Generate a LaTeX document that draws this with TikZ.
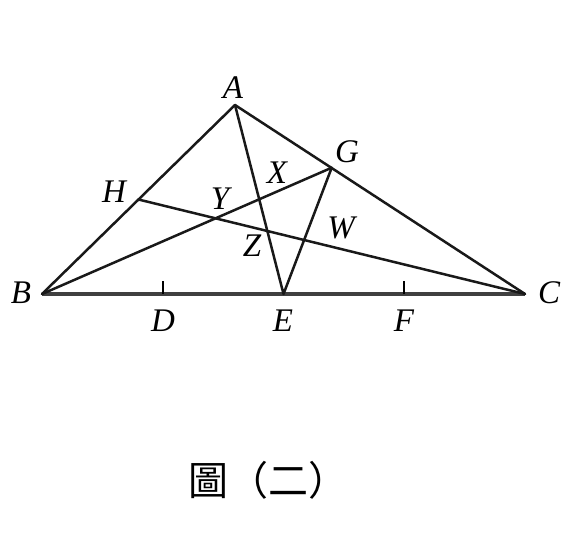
\documentclass[tikz,border=0pt]{standalone}
\usepackage{fontspec}
\setmainfont{Liberation Serif}
\newfontfamily\cjk{Noto Sans CJK TC}
\tikzset{
  seg/.style={line width=2.5pt, black!90, line cap=round, line join=round},
  base/.style={line width=3.2pt, black!75},
  lbl/.style={font=\fontsize{33}{33}\selectfont\itshape, inner sep=0pt}
}
\begin{document}
\begin{tikzpicture}[x=1pt,y=-1pt]
  \useasboundingbox (0,0) rectangle (569,549);
  % triangle points
  \coordinate (A) at (235,105);
  \coordinate (B) at (42,294);
  \coordinate (C) at (525,294);
  \coordinate (D) at (162.75,294);
  \coordinate (E) at (283.5,294);
  \coordinate (F) at (404.25,294);
  \coordinate (G) at (331.7,167.7);
  \coordinate (H) at (138.5,199.5);
  % sides and cevians
  \draw[base] (B) -- (C);
  \draw[seg] (B) -- (A) -- (C);
  \draw[seg] (A) -- (E) -- (G);
  \draw[seg] (B) -- (G);
  \draw[seg] (H) -- (C);
  % ticks
  \draw[line width=2.2pt] (D) -- ++(0,-13);
  \draw[line width=2.2pt] (F) -- ++(0,-13);
  % labels
  \node[lbl] (lA) at (233,88) {A};
  \node[lbl] (lB) at (21,293) {B};
  \node[lbl] (lC) at (549,293) {C};
  \node[lbl] (lD) at (163,321) {D};
  \node[lbl] (lE) at (283,321) {E};
  \node[lbl] (lF) at (404,321) {F};
  \node[lbl] (lG) at (347,152) {G};
  \node[lbl] (lH) at (114,192) {H};
  \node[lbl] (lX) at (277,173) {X};
  \node[lbl] (lY) at (220,199) {Y};
  \node[lbl] (lZ) at (252,246) {Z};
  \node[lbl] (lW) at (341,228) {W};
  % caption
  \node[font=\cjk\fontsize{40}{40}\selectfont, inner sep=0pt] (cap) at (268,480) {圖（二）};
\end{tikzpicture}
\end{document}
